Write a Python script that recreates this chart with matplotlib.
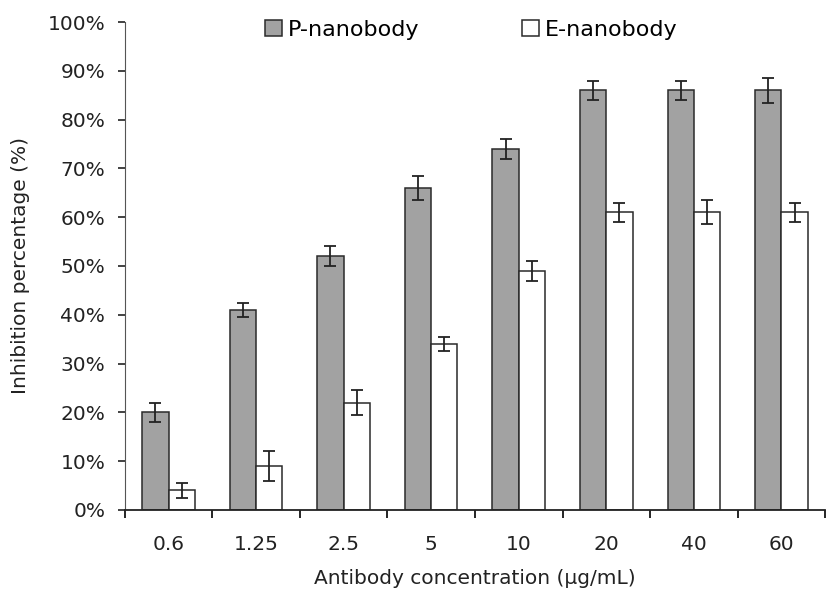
import numpy as np
import matplotlib.pyplot as plt

plt.rcParams['font.family'] = ['DejaVu Sans']

concentrations = ["0.6", "1.25", "2.5", "5", "10", "20", "40", "60"]
p_nanobody = [20, 41, 52, 66, 74, 86, 86, 86]
p_err = [2, 1.5, 2, 2.5, 2, 2, 2, 2.5]
e_nanobody = [4, 9, 22, 34, 49, 61, 61, 61]
e_err = [1.5, 3, 2.5, 1.5, 2, 2, 2.5, 2]

fig = plt.figure(figsize=(8.26, 5.95), dpi=100)
ax = fig.add_axes([0.151, 0.143, 0.848, 0.820])

x = np.arange(len(concentrations))
w = 0.3
ekw = dict(elinewidth=1.3, capthick=1.3, ecolor='#222222')
ax.bar(x - w / 2, p_nanobody, w, color='#a2a2a2', edgecolor='#2a2a2a', linewidth=1.1,
       yerr=p_err, capsize=4, error_kw=ekw, label='P-nanobody')
ax.bar(x + w / 2, e_nanobody, w, color='white', edgecolor='#2a2a2a', linewidth=1.1,
       yerr=e_err, capsize=4, error_kw=ekw, label='E-nanobody')

ax.set_xlim(-0.5, len(concentrations) - 0.5)
ax.set_ylim(0, 100)
ax.set_yticks(np.arange(0, 101, 10))
ax.set_yticklabels([f"{v}%" for v in range(0, 101, 10)])
ax.set_xticks(x)
ax.set_xticklabels(concentrations)
ax.set_xticks(np.arange(-0.5, len(concentrations), 1), minor=True)
ax.tick_params(axis='x', which='major', length=0, pad=18)
ax.tick_params(axis='x', which='minor', length=6, width=1.2, direction='out')
ax.tick_params(axis='y', length=5, width=1.2, direction='out', pad=9)
ax.tick_params(labelsize=14.5, colors='#222222')

for s in ['top', 'right']:
    ax.spines[s].set_visible(False)
ax.spines['left'].set_color('#555555')
ax.spines['bottom'].set_color('#222222')
ax.spines['bottom'].set_linewidth(1.3)

ax.set_ylabel('Inhibition percentage (%)', fontsize=14.5, color='#222222')
ax.yaxis.set_label_coords(-0.135, 0.5)
ax.set_xlabel('Antibody concentration (µg/mL)', fontsize=14.5, color='#222222', labelpad=11)

ax.legend(loc='upper center', ncol=2, frameon=False, fontsize=16, handlelength=0.75,
          handleheight=0.75, handletextpad=0.3, columnspacing=4.6,
          bbox_to_anchor=(0.495, 1.045))

fig.savefig('out.png', dpi=100)
